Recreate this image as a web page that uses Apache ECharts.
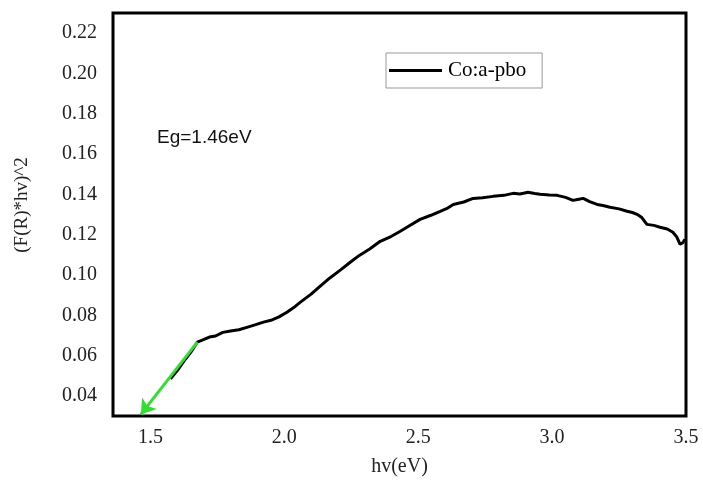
<!DOCTYPE html>
<html>
<head>
<meta charset="utf-8">
<script src="https://cdn.jsdelivr.net/npm/echarts@6/dist/echarts.min.js"></script>
<style>
  html, body { margin: 0; padding: 0; background: #fff; }
  #chart { width: 703px; height: 487px; }
</style>
</head>
<body>
<div id="chart"></div>
<script>
// photon energy (eV)
const hv = [1.575, 1.60, 1.631, 1.655, 1.675, 1.70, 1.72, 1.743, 1.77, 1.799, 1.83, 1.86, 1.89, 1.922,
  1.95, 1.98, 2.011, 2.035, 2.060, 2.10, 2.134, 2.17, 2.21, 2.246, 2.28, 2.32, 2.358, 2.40, 2.433,
  2.47, 2.507, 2.545, 2.582, 2.61, 2.631, 2.67, 2.705, 2.74, 2.780, 2.82, 2.854, 2.88, 2.910, 2.935,
  2.955, 2.99, 3.019, 3.05, 3.078, 3.10, 3.116, 3.14, 3.168, 3.19, 3.216, 3.25, 3.280, 3.30, 3.317,
  3.335, 3.354, 3.38, 3.403, 3.43, 3.451, 3.465, 3.478, 3.488, 3.496]
// (F(R)*hv)^2
const fr = [0.0484, 0.0525, 0.0583, 0.0625, 0.0667, 0.0680, 0.0692, 0.0697, 0.0715, 0.0722, 0.0728, 0.0740, 0.0752, 0.0766,
  0.0775, 0.0792, 0.0816, 0.0838, 0.0865, 0.0905, 0.0945, 0.0985, 0.1025, 0.1063, 0.1097, 0.1130, 0.1167, 0.1192, 0.1217,
  0.1247, 0.1276, 0.1295, 0.1316, 0.1332, 0.1350, 0.1362, 0.1380, 0.1383, 0.1390, 0.1395, 0.1405, 0.1402, 0.1410, 0.1404,
  0.1400, 0.1397, 0.1395, 0.1385, 0.1370, 0.1376, 0.1380, 0.1364, 0.1350, 0.1345, 0.1336, 0.1328, 0.1316, 0.1310, 0.1301,
  0.1285, 0.1251, 0.1246, 0.1237, 0.1228, 0.1212, 0.1190, 0.1152, 0.1160, 0.1177]

// tangent used for the band gap extrapolation (arrow tip on the lower end)
const fitStart = [1.675, 0.0667]
const fitEnd = [1.464, 0.0308]

const xTicks = [1.5, 2.0, 2.5, 3.0, 3.5]
const yTicks = [0.04, 0.06, 0.08, 0.10, 0.12, 0.14, 0.16, 0.18, 0.20, 0.22]

const serif = '"Liberation Serif", "Times New Roman", serif'
const sans = '"Liberation Sans", Arial, sans-serif'

const chart = echarts.init(document.getElementById('chart'))

chart.setOption({
  animation: false,
  backgroundColor: '#fff',
  grid: {
    left: 113, right: 17, top: 13, bottom: 71,
    show: true,
    borderColor: '#000',
    borderWidth: 3,
  },
  legend: {
    left: 386,
    top: 53,
    padding: [7, 16, 7, 3],
    borderColor: '#999',
    borderWidth: 1,
    itemWidth: 53,
    itemHeight: 3,
    itemGap: 6,
    data: [{ name: 'Co:a-pbo', icon: 'rect' }],
    textStyle: { fontFamily: serif, fontSize: 21, color: '#000', padding: [0, 0, 0, 1] },
  },
  xAxis: {
    type: 'value',
    min: 1.36,
    max: 3.5,
    name: 'hv(eV)',
    nameLocation: 'middle',
    nameGap: 41,
    nameTextStyle: { fontFamily: serif, fontSize: 20, color: '#222' },
    axisLine: { show: false },
    axisTick: { show: false },
    splitLine: { show: false },
    axisLabel: {
      customValues: xTicks,
      formatter: (v) => v.toFixed(1),
      fontFamily: serif,
      fontSize: 20,
      color: '#222',
      margin: 12,
    },
  },
  yAxis: {
    type: 'value',
    min: 0.03,
    max: 0.23,
    splitLine: { show: false },
    axisLine: { show: false },
    axisTick: { show: false },
    axisLabel: {
      customValues: yTicks,
      formatter: (v) => v.toFixed(2),
      fontFamily: serif,
      fontSize: 20,
      color: '#222',
      margin: 16,
    },
  },
  graphic: [
    {
      type: 'text',
      left: 157,
      top: 128,
      style: { text: 'Eg=1.46eV', font: '19px ' + sans, fill: '#111' },
    },
    {
      type: 'text',
      x: 22,
      y: 205,
      rotation: Math.PI / 2,
      style: {
        text: '(F(R)*hv)^2',
        font: '19px ' + serif,
        fill: '#222',
        align: 'center',
        verticalAlign: 'middle',
      },
    },
  ],
  series: [
    {
      name: 'Co:a-pbo',
      type: 'line',
      data: hv.map((x, i) => [x, fr[i]]),
      showSymbol: false,
      symbol: 'none',
      lineStyle: { color: '#000', width: 3 },
      itemStyle: { color: '#000' },
      z: 2,
    },
    {
      name: 'fit',
      type: 'line',
      data: [],
      clip: false,
      z: 5,
      markLine: {
        silent: true,
        symbol: ['none', 'arrow'],
        symbolSize: 14,
        label: { show: false },
        lineStyle: { color: '#33dd33', width: 3, type: 'solid' },
        itemStyle: { color: '#33dd33' },
        data: [[{ coord: fitStart }, { coord: fitEnd }]],
      },
    },
  ],
})
</script>
</body>
</html>
